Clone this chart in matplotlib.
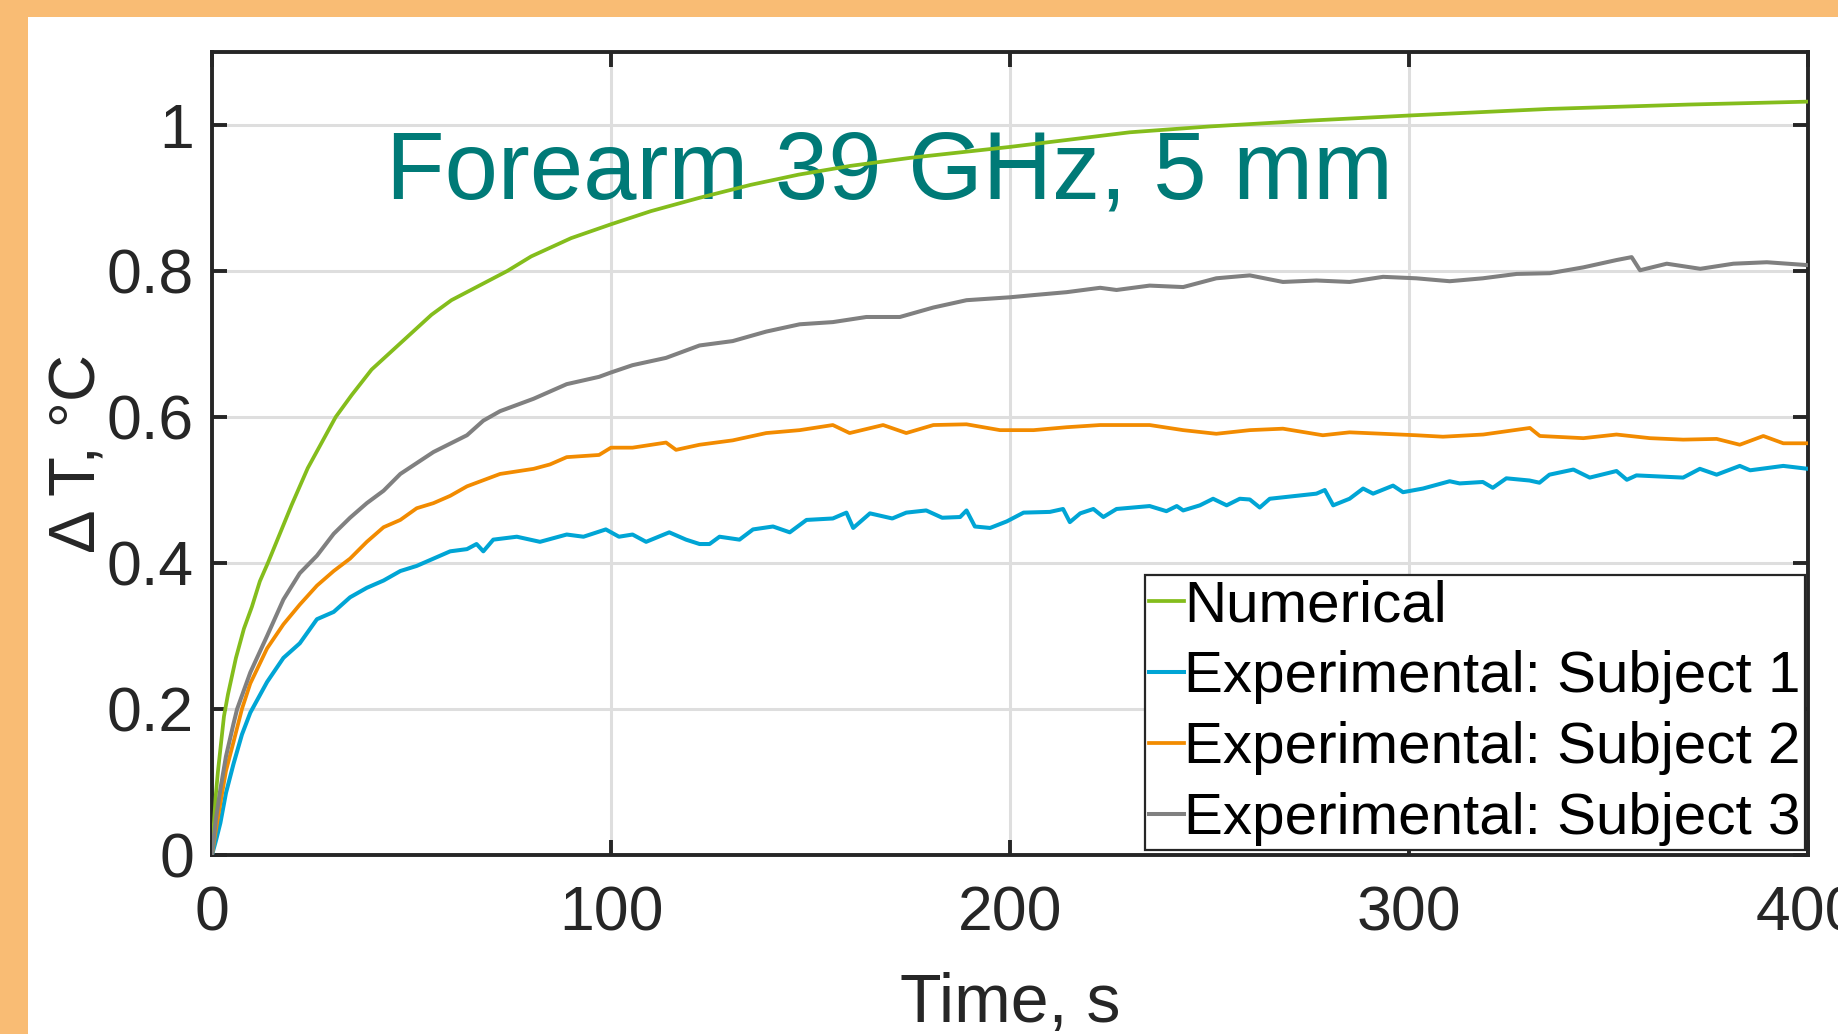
import matplotlib
matplotlib.use("Agg")
import matplotlib.pyplot as plt
from matplotlib.patches import Rectangle

# ---------------- data ----------------
t_num = [0, 0.5, 1, 1.5, 2, 3, 4, 5, 6, 8, 10, 12, 14, 17, 20, 24, 28, 31, 35, 40,
         45, 50, 55, 60, 67, 74, 80, 90, 100, 110, 122, 135, 147, 160, 175, 190,
         200, 215, 230, 250, 275, 300, 335, 370, 400]
v_num = [0, 0.045, 0.085, 0.115, 0.14, 0.19, 0.22, 0.245, 0.27, 0.31, 0.34, 0.375,
         0.40, 0.44, 0.48, 0.53, 0.57, 0.60, 0.63, 0.665, 0.69, 0.715, 0.74, 0.76,
         0.78, 0.80, 0.82, 0.845, 0.864, 0.882, 0.90, 0.918, 0.932, 0.944, 0.955,
         0.964, 0.97, 0.98, 0.99, 0.998, 1.006, 1.013, 1.022, 1.028, 1.032]

t_s1 = [0, 1, 2.1, 3.5, 5.4, 7.5, 9.6, 13.8, 17.9, 22, 26.3, 30.5, 34.6, 38.8, 43,
        47.2, 51.3, 55.5, 59.7, 63.9, 66.3, 68, 70.5, 76.4, 82.2, 88.9, 93.1, 98.7,
        102, 105.4, 108.8, 114.6, 118.8, 122.2, 124.7, 127.2, 132.2, 135.6, 140.6,
        144.8, 149, 155.6, 159, 160.7, 164.9, 170.5, 174, 179, 183, 187.5, 189.1,
        191.2, 195, 199.2, 203.4, 210, 213.3, 215, 217.6, 220.9, 223.4, 226.7, 235,
        239.2, 241.8, 243.4, 247.6, 250.9, 254.3, 257.6, 260.1, 262.6, 265.1, 276.8,
        278.9, 281, 285.1, 288.5, 291, 296, 298.5, 303.5, 310.2, 312.7, 318.5, 321,
        324.4, 330.2, 332.7, 335.2, 341.2, 345.3, 352, 354.6, 357, 368.7, 372.9,
        377.1, 382.9, 385.5, 393.8, 400]
v_s1 = [0, 0.02, 0.044, 0.085, 0.125, 0.165, 0.195, 0.237, 0.27, 0.29, 0.323, 0.333,
        0.353, 0.366, 0.376, 0.389, 0.396, 0.406, 0.416, 0.419, 0.426, 0.416, 0.432,
        0.436, 0.429, 0.439, 0.436, 0.446, 0.436, 0.439, 0.429, 0.442, 0.432, 0.426,
        0.426, 0.436, 0.432, 0.446, 0.450, 0.442, 0.459, 0.461, 0.469, 0.448, 0.468,
        0.461, 0.469, 0.472, 0.462, 0.463, 0.472, 0.450, 0.448, 0.457, 0.469, 0.470,
        0.474, 0.456, 0.468, 0.474, 0.463, 0.474, 0.478, 0.471, 0.478, 0.472, 0.479,
        0.488, 0.479, 0.488, 0.487, 0.476, 0.488, 0.495, 0.500, 0.479, 0.488, 0.502,
        0.495, 0.506, 0.497, 0.502, 0.512, 0.509, 0.511, 0.503, 0.516, 0.513, 0.510,
        0.521, 0.528, 0.517, 0.526, 0.514, 0.520, 0.517, 0.529, 0.521, 0.533, 0.527,
        0.533, 0.529]

t_s2 = [0, 1, 2.1, 3.5, 5.4, 7.5, 9.6, 13.8, 17.9, 22, 26.3, 30.5, 34.6, 38.8, 43,
        47.2, 51.3, 55.5, 59.7, 63.9, 72.2, 80.6, 84.7, 88.9, 97, 100, 105.4, 113.8,
        116.3, 122.2, 130.5, 138.9, 147.3, 155.6, 159.8, 168.2, 174, 180.8, 189.1,
        197.5, 205.9, 214.2, 222.6, 235, 243.4, 251.7, 260.1, 268.4, 278.4, 285.1,
        293.5, 301.8, 308.5, 318.6, 330.3, 332.8, 343.7, 352, 360.4, 368.7, 377.1,
        382.9, 388.8, 393.8, 400]
v_s2 = [0, 0.035, 0.071, 0.115, 0.155, 0.20, 0.235, 0.283, 0.316, 0.343, 0.369,
        0.389, 0.406, 0.429, 0.449, 0.459, 0.475, 0.482, 0.492, 0.505, 0.522, 0.529,
        0.535, 0.545, 0.548, 0.558, 0.558, 0.565, 0.555, 0.562, 0.568, 0.578, 0.582,
        0.589, 0.578, 0.589, 0.578, 0.589, 0.590, 0.582, 0.582, 0.586, 0.589, 0.589,
        0.582, 0.577, 0.582, 0.584, 0.575, 0.579, 0.577, 0.575, 0.573, 0.576, 0.585,
        0.574, 0.571, 0.576, 0.571, 0.569, 0.570, 0.562, 0.574, 0.564, 0.564]

t_s3 = [0, 1, 2.1, 3.5, 5.4, 6.3, 9.6, 13.8, 17.9, 22, 26.3, 30.5, 34.6, 38.8, 43,
        47.2, 55.5, 63.9, 68, 72.2, 80.6, 88.9, 97, 100, 105.4, 113.8, 122.2, 130.5,
        138.9, 147.3, 155.6, 164, 172.4, 180.8, 189.1, 200, 205.9, 214.2, 222.6,
        226.7, 235, 243.4, 251.7, 260.1, 268.4, 276.8, 285.1, 293.5, 301.8, 310.2,
        318.5, 327, 335.3, 343.7, 352, 355.8, 357.9, 364.6, 373, 381.3, 389.7, 400]
v_s3 = [0, 0.05, 0.09, 0.135, 0.18, 0.20, 0.25, 0.30, 0.35, 0.386, 0.41, 0.44, 0.462,
        0.482, 0.499, 0.522, 0.552, 0.575, 0.595, 0.608, 0.625, 0.645, 0.655, 0.661,
        0.671, 0.681, 0.698, 0.704, 0.717, 0.727, 0.730, 0.737, 0.737, 0.750, 0.760,
        0.764, 0.767, 0.771, 0.777, 0.774, 0.780, 0.778, 0.790, 0.794, 0.785, 0.787,
        0.785, 0.792, 0.790, 0.786, 0.790, 0.796, 0.797, 0.805, 0.815, 0.819, 0.801,
        0.810, 0.803, 0.810, 0.812, 0.808]

labels = ["Numerical", "Experimental: Subject 1", "Experimental: Subject 2",
          "Experimental: Subject 3"]
x_ticks = [0, 100, 200, 300, 400]
x_tick_labels = ["0", "100", "200", "300", "400"]
y_ticks = [0, 0.2, 0.4, 0.6, 0.8, 1.0]
y_tick_labels = ["0", "0.2", "0.4", "0.6", "0.8", "1"]
title_text = "Forearm 39 GHz, 5 mm"

# ---------------- styling ----------------
plt.rcParams['font.family'] = ['Liberation Sans', 'DejaVu Sans']
W, H = 1838, 1034
fig = plt.figure(figsize=(W / 100, H / 100), dpi=100)
fig.patch.set_facecolor('white')

border = '#F9BC74'
fig.patches.append(Rectangle((0, 1 - 17 / H), 1, 17 / H, transform=fig.transFigure,
                             facecolor=border, edgecolor='none', zorder=0))
fig.patches.append(Rectangle((0, 0), 28 / W, 1, transform=fig.transFigure,
                             facecolor=border, edgecolor='none', zorder=0))

ax = fig.add_axes([212 / W, 1 - 855 / H, 1596 / W, 803 / H])
ax.set_xlim(0, 400)
ax.set_ylim(0, 1.1)

c_num = '#84BD1C'
c_s1 = '#00A5D5'
c_s2 = '#F28B00'
c_s3 = '#808080'
l0, = ax.plot(t_num, v_num, color=c_num, lw=2.7, zorder=3, solid_joinstyle='round')
l1, = ax.plot(t_s1, v_s1, color=c_s1, lw=2.9, zorder=3)
l2, = ax.plot(t_s2, v_s2, color=c_s2, lw=2.7, zorder=3)
l3, = ax.plot(t_s3, v_s3, color=c_s3, lw=2.9, zorder=3)

ax.set_xticks(x_ticks)
ax.set_xticklabels(x_tick_labels)
ax.set_yticks(y_ticks)
ax.set_yticklabels(y_tick_labels)
ax.grid(True, color='#DEDEDE', lw=2.2, zorder=0)
ax.set_axisbelow(True)

spine_c = '#262626'
for s in ax.spines.values():
    s.set_color(spine_c)
    s.set_linewidth(2.8)
ax.tick_params(axis='both', direction='in', length=11, width=2.8, color=spine_c,
               labelsize=45, labelcolor=spine_c, top=True, right=True)
ax.tick_params(axis='y', pad=13)
ax.tick_params(axis='x', pad=21)

ax.set_xlabel("Time, s", fontsize=49, color=spine_c)
ax.xaxis.set_label_coords(0.5, -0.146)
ax.set_ylabel("Δ T, °C", fontsize=47, color=spine_c)
ax.yaxis.set_label_coords(-0.065, 0.5)

ax.text(0.109, 0.818, title_text, transform=ax.transAxes, fontsize=69,
        color='#007A77', ha='left', va='baseline', zorder=2)

leg = ax.legend([l0, l1, l2, l3], labels, loc='lower right',
                bbox_to_anchor=(0.998, 0.006), borderaxespad=0, fontsize=42,
                frameon=True, fancybox=False, framealpha=1, edgecolor=spine_c,
                handlelength=0.6, handletextpad=0.0, borderpad=0.07,
                labelspacing=0.29)
leg.get_frame().set_linewidth(1.6)
leg.set_zorder(5)

fig.savefig("out.png", dpi=100)
